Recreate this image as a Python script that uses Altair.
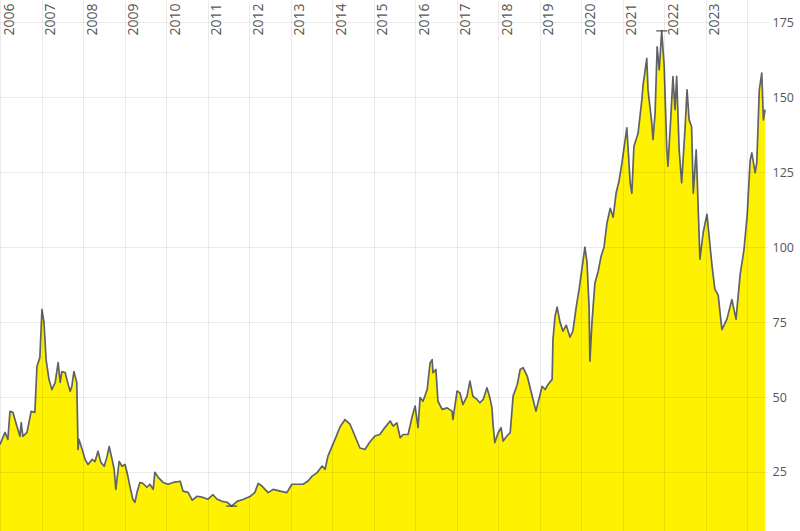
import altair as alt
import pandas as pd

years = [
    2006.00, 2006.12, 2006.19, 2006.24, 2006.31, 2006.41, 2006.48, 2006.51, 2006.55, 2006.65,
    2006.75, 2006.84, 2006.89, 2006.96, 2007.01, 2007.06, 2007.11, 2007.18, 2007.25, 2007.33,
    2007.40, 2007.45, 2007.49, 2007.57, 2007.61, 2007.69, 2007.73, 2007.78, 2007.85, 2007.88,
    2007.90, 2007.98, 2008.05, 2008.12, 2008.22, 2008.29, 2008.36, 2008.43, 2008.51, 2008.58,
    2008.63, 2008.70, 2008.75, 2008.79, 2008.87, 2008.94, 2009.01, 2009.06, 2009.13, 2009.20,
    2009.25, 2009.30, 2009.37, 2009.44, 2009.54, 2009.61, 2009.69, 2009.73, 2009.81, 2009.93,
    2010.05, 2010.17, 2010.34, 2010.41, 2010.53, 2010.63, 2010.75, 2010.89, 2011.01, 2011.13,
    2011.23, 2011.35, 2011.47, 2011.58, 2011.71, 2011.85, 2012.02, 2012.14, 2012.22, 2012.31,
    2012.46, 2012.58, 2012.75, 2012.91, 2013.03, 2013.15, 2013.30, 2013.42, 2013.52, 2013.64,
    2013.76, 2013.83, 2013.90, 2014.00, 2014.07, 2014.19, 2014.31, 2014.43, 2014.55, 2014.67,
    2014.79, 2014.91, 2015.03, 2015.15, 2015.27, 2015.40, 2015.47, 2015.56, 2015.64, 2015.71,
    2015.83, 2015.93, 2016.00, 2016.07, 2016.12, 2016.19, 2016.29, 2016.36, 2016.41, 2016.43,
    2016.50, 2016.55, 2016.65, 2016.77, 2016.89, 2016.91, 2017.01, 2017.08, 2017.15, 2017.25,
    2017.32, 2017.39, 2017.49, 2017.56, 2017.64, 2017.73, 2017.80, 2017.85, 2017.88, 2017.92,
    2018.00, 2018.07, 2018.12, 2018.21, 2018.29, 2018.36, 2018.46, 2018.53, 2018.60, 2018.70,
    2018.77, 2018.84, 2018.91, 2018.96, 2019.06, 2019.13, 2019.20, 2019.30, 2019.32, 2019.37,
    2019.42, 2019.49, 2019.56, 2019.64, 2019.73, 2019.80, 2019.88, 2019.95, 2020.02, 2020.09,
    2020.14, 2020.19, 2020.21, 2020.26, 2020.33, 2020.41, 2020.48, 2020.55, 2020.62, 2020.70,
    2020.77, 2020.84, 2020.91, 2020.98, 2021.10, 2021.18, 2021.22, 2021.27, 2021.37, 2021.46,
    2021.49, 2021.58, 2021.61, 2021.70, 2021.73, 2021.78, 2021.83, 2021.88, 2021.94, 2022.00,
    2022.06, 2022.09, 2022.16, 2022.21, 2022.26, 2022.30, 2022.36, 2022.42, 2022.50, 2022.55,
    2022.60, 2022.66, 2022.70, 2022.77, 2022.79, 2022.86, 2022.94, 2023.03, 2023.15, 2023.22,
    2023.30, 2023.39, 2023.51, 2023.63, 2023.73, 2023.83, 2023.92, 2024.00, 2024.07, 2024.11,
    2024.19, 2024.23, 2024.29, 2024.35, 2024.39, 2024.43,
]

values = [
    34.2, 38.2, 35.9, 45.2, 44.9, 40.2, 36.9, 41.5, 36.9, 38.2,
    45.2, 44.9, 60.2, 63.2, 79.2, 74.9, 62.5, 55.9, 52.5, 54.9,
    61.5, 54.9, 58.5, 58.2, 55.9, 51.9, 53.5, 58.5, 54.9, 32.5,
    35.9, 32.5, 29.2, 27.5, 29.2, 28.5, 31.9, 28.2, 26.9, 30.2,
    33.5, 29.2, 25.9, 19.2, 28.5, 26.9, 27.5, 24.9, 20.2, 15.9,
    14.9, 18.2, 21.5, 21.2, 19.9, 20.9, 19.2, 24.9, 23.2, 21.5,
    20.9, 21.5, 21.9, 18.6, 18.2, 15.6, 16.9, 16.5, 15.9, 17.4,
    15.9, 15.2, 14.9, 13.6, 15.2, 15.8, 16.8, 18.2, 21.2, 20.3,
    18.1, 19.2, 18.6, 18.1, 20.9, 20.9, 20.9, 22.0, 23.6, 24.8,
    27.0, 25.9, 30.3, 33.6, 35.9, 40.0, 42.5, 41.0, 37.0, 33.0,
    32.5, 35.0, 37.0, 37.5, 39.8, 42.0, 40.3, 41.4, 36.4, 37.5,
    37.5, 43.6, 47.0, 39.8, 49.8, 48.6, 52.5, 61.4, 62.5, 58.1,
    59.2, 48.6, 45.9, 46.4, 45.3, 42.5, 52.0, 51.4, 47.5, 50.3,
    55.3, 50.3, 49.2, 48.1, 49.2, 53.1, 49.8, 46.4, 40.3, 34.8,
    38.1, 39.8, 35.3, 37.0, 38.1, 50.3, 54.2, 59.2, 59.8, 57.0,
    53.1, 49.2, 45.3, 48.1, 53.6, 52.5, 54.2, 55.9, 69.2, 77.0,
    80.0, 75.0, 72.0, 74.0, 70.0, 72.0, 80.0, 86.0, 93.0, 100.0,
    95.0, 80.0, 62.0, 75.0, 88.0, 92.0, 97.0, 100.0, 108.0, 113.0,
    110.0, 118.0, 122.0, 128.0, 139.8, 121.5, 118.0, 133.6, 138.0, 149.0,
    154.0, 163.0, 152.5, 141.5, 135.9, 144.8, 166.9, 159.2, 172.2, 160.2,
    133.6, 127.0, 143.6, 156.9, 145.9, 157.0, 132.5, 121.5, 139.2, 152.5,
    142.5, 140.2, 118.0, 132.5, 124.9, 96.0, 105.0, 111.0, 94.0, 86.0,
    84.0, 72.5, 76.0, 82.5, 76.0, 91.0, 99.0, 111.0, 129.0, 131.5,
    124.9, 128.2, 152.5, 158.1, 142.5, 145.9,
]

x_ticks = list(range(2006, 2025))
y_ticks = [25, 50, 75, 100, 125, 150, 175]

df = pd.DataFrame({"year": years, "value": values})
i_min = values.index(min(values))
i_max = values.index(max(values))
extremes = df.iloc[[i_min, i_max]]

x_scale = alt.Scale(domain=[2006, 2024.5], nice=False, zero=False)
y_scale = alt.Scale(domain=[5.3, 182.5], nice=False, zero=False)

x_axis = alt.Axis(
    orient="top", values=x_ticks, title=None,
    labelExpr="datum.value >= 2024 ? '' : '' + datum.value",
    labelAngle=270, labelAlign="right", labelBaseline="middle",
    labelOffset=9, labelPadding=-3, labelFlush=False, labelOverlap=False,
    ticks=False, domain=False, grid=True, gridColor="#000000", gridOpacity=0.08,
    labelFont="Open Sans", labelFontSize=14, labelColor="#555555", zindex=1,
)
y_axis = alt.Axis(
    orient="right", values=y_ticks, title=None,
    ticks=False, domain=False, grid=True, gridColor="#000000", gridOpacity=0.08,
    labelPadding=4, labelAlign="left", labelBaseline="middle", labelOverlap=False,
    labelFont="Open Sans", labelFontSize=12.5, labelColor="#555555", zindex=1,
)

X = alt.X("year:Q", scale=x_scale, axis=x_axis)
Y = alt.Y("value:Q", scale=y_scale, axis=y_axis)

area = alt.Chart(df).mark_area(color="#fff200", clip=True).encode(x=X, y=Y)
line = alt.Chart(df).mark_line(
    color="#5f6368", strokeWidth=1.7, strokeJoin="round", clip=True
).encode(x=X, y=Y)
marks = alt.Chart(extremes).mark_tick(
    orient="horizontal", size=11, thickness=1.5, color="#333333"
).encode(x=X, y=Y)

chart = (
    alt.layer(area, line, marks)
    .properties(
        width=768, height=531,
        autosize=alt.AutoSizeParams(type="none"),
        padding={"left": 0, "top": 0, "right": 32, "bottom": 0},
        background="white",
    )
    .configure_view(strokeWidth=0)
)

chart.save("out.html", embed_options={"renderer": "svg", "actions": False})
